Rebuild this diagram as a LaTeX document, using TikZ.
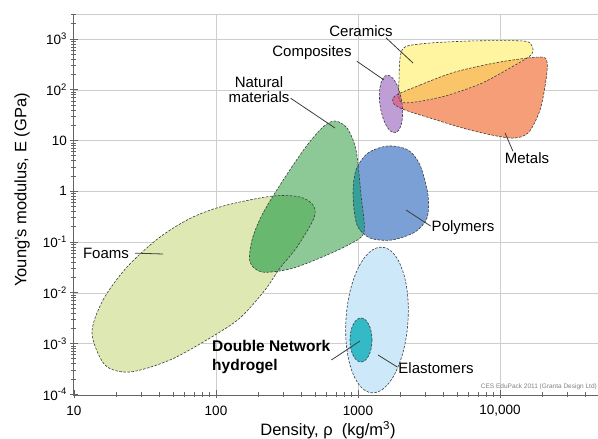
\documentclass[tikz,border=0pt]{standalone}
\usepackage{fontspec}
\setmainfont{Liberation Sans}
\usetikzlibrary{calc,positioning}

\definecolor{foamcol}{RGB}{221,232,178}
\definecolor{natcol}{RGB}{140,201,150}
\definecolor{foamnatcol}{RGB}{105,184,112}
\definecolor{polcol}{RGB}{122,160,214}
\definecolor{natpolcol}{RGB}{55,160,150}
\definecolor{elacol}{RGB}{205,232,248}
\definecolor{gelcol}{RGB}{52,186,198}
\definecolor{cercol}{RGB}{255,244,160}
\definecolor{metcol}{RGB}{246,158,120}
\definecolor{cermetcol}{RGB}{250,196,105}
\definecolor{cmpcol}{RGB}{190,158,212}
\definecolor{cmpmetcol}{RGB}{212,112,150}
\definecolor{outlinecol}{RGB}{60,60,60}
\definecolor{gridcol}{RGB}{205,205,205}
\definecolor{axiscol}{RGB}{100,100,100}

\tikzset{
  region/.style={draw=outlinecol, line width=0.6pt, dash pattern=on 2.5pt off 1.5pt},
  leader/.style={draw=outlinecol, line width=0.8pt},
  gridline/.style={draw=gridcol, line width=0.5pt},
  axisline/.style={draw=axiscol, line width=0.6pt},
  matlabel/.style={font=\fontsize{15}{15}\selectfont, inner sep=1pt},
  ticklabel/.style={font=\fontsize{13.5}{15}\selectfont, inner sep=1pt},
  axistitle/.style={font=\fontsize{16.5}{18}\selectfont, inner sep=1pt},
}

\begin{document}
\begin{tikzpicture}[x=1pt, y=-1pt]
    % Parameters (frame in pixels, y pointing down)
    \def\xzero{74}
    \def\xdec{142}
    \def\yzero{394.25}
    \def\ydec{50.75}
    \def\xleft{73}
    \def\xright{598}
    \def\ytop{14}
    \def\ybot{395}

    \useasboundingbox (0,0) rectangle (598,439);

    % Region outlines
    \def\foamspath{plot[smooth cycle] coordinates {(92,333) (103,300) (127,267) (160,237) (193,217) (227,205) (273,196) (300,197) (313,205) (314,218) (297,247) (280,268) (265,290) (240,318) (210,338) (170,360) (130,372) (105,365)}}
    \def\naturalpath{plot[smooth cycle] coordinates {(335,121) (347,128) (356,150) (361,195) (364,232) (350,244) (320,258) (290,269) (262,272) (250,262) (252,240) (262,215) (280,185) (305,148) (323,127)}}
    \def\polymerpath{plot[smooth cycle] coordinates {(353,195) (356,170) (368,153) (388,146) (408,150) (420,165) (428,195) (427,218) (415,232) (392,240) (370,238) (357,225)}}
    \def\ceramicpath{plot[smooth cycle] coordinates {(402,50) (420,44) (470,41) (523,41) (532,46) (531,55) (510,68) (480,84) (445,96) (415,102) (400,101) (399,80)}}
    \def\metalpath{plot[smooth cycle] coordinates {(395,96) (420,85) (455,72) (500,62) (540,57) (547,62) (546,80) (540,110) (528,133) (510,138) (470,130) (430,118) (405,110) (394,104)}}

    % Grid
    \draw[gridline] (\xleft,\ytop) -- (\xright,\ytop);
    \foreach \k in {1,...,7}
        \draw[gridline] (\xleft,{\yzero-\k*\ydec}) -- (\xright,{\yzero-\k*\ydec});
    \foreach \k in {1,2,3}
        \draw[gridline] ({\xzero+\k*\xdec},\ytop) -- ({\xzero+\k*\xdec},\ybot);

    % Fills
    \fill[foamcol] \foamspath;
    \fill[natcol] \naturalpath;
    \begin{scope}
        \clip \foamspath;
        \fill[foamnatcol] \naturalpath;
    \end{scope}
    \fill[polcol] \polymerpath;
    \begin{scope}
        \clip \naturalpath;
        \fill[natpolcol] \polymerpath;
    \end{scope}
    \fill[elacol, rotate around={-4:(377,320)}] (377,320) ellipse [x radius=31, y radius=73];
    \fill[gelcol] (361,340) ellipse [x radius=11, y radius=22];
    \fill[metcol] \metalpath;
    \fill[cercol] \ceramicpath;
    \begin{scope}
        \clip \metalpath;
        \fill[cermetcol] \ceramicpath;
    \end{scope}
    \fill[cmpcol, rotate around={8:(391,104)}] (391,104) ellipse [x radius=11, y radius=29];
    \begin{scope}
        \clip \metalpath;
        \fill[cmpmetcol, rotate around={8:(391,104)}] (391,104) ellipse [x radius=11, y radius=29];
    \end{scope}

    % Dashed borders on top
    \draw[region] \foamspath;
    \draw[region] \naturalpath;
    \draw[region] \polymerpath;
    \draw[region, rotate around={-4:(377,320)}] (377,320) ellipse [x radius=31, y radius=73];
    \draw[region] (361,340) ellipse [x radius=11, y radius=22];
    \draw[region] \metalpath;
    \draw[region] \ceramicpath;
    \draw[region, rotate around={8:(391,104)}] (391,104) ellipse [x radius=11, y radius=29];

    % Axes and ticks
    \draw[axisline] (\xleft,\ytop) -- (\xleft,\ybot) -- (\xright,\ybot);
    \foreach \k in {0,...,7}
        \draw[axisline] (\xleft-3,{\yzero-\k*\ydec}) -- ++(8,0);
    \foreach \d in {0,...,6}
        \foreach \m in {2,...,9}
            \draw[axisline] (\xleft-2,{\yzero-(\d+log10(\m))*\ydec}) -- ++(5,0);
    \foreach \m in {2,3}
        \draw[axisline] (\xleft-2,{\yzero-(7+log10(\m))*\ydec}) -- ++(5,0);
    \foreach \k in {0,...,3}
        \draw[axisline] ({\xzero+\k*\xdec},\ybot+3) -- ++(0,-8);
    \foreach \d in {0,...,2}
        \foreach \m in {2,...,9}
            \draw[axisline] ({\xzero+(\d+log10(\m))*\xdec},\ybot+2) -- ++(0,-5);
    \foreach \m in {2,3,4}
        \draw[axisline] ({\xzero+(3+log10(\m))*\xdec},\ybot+2) -- ++(0,-5);

    % Tick labels
    \foreach \k/\t in {0/{10\textsuperscript{-4}}, 1/{10\textsuperscript{-3}}, 2/{10\textsuperscript{-2}}, 3/{10\textsuperscript{-1}}, 4/1, 5/10, 6/{10\textsuperscript{2}}, 7/{10\textsuperscript{3}}}
        \node[ticklabel, anchor=east] (yl\k) at (68,{\yzero-\k*\ydec}) {\t};
    \foreach \k/\t in {0/10, 1/100, 2/1000, 3/{10,000}}
        \node[ticklabel] (xl\k) at ({\xzero+\k*\xdec},411) {\t};

    % Axis titles
    \node[axistitle] (xtitle) at (328,430) {Density, ρ\ \ (kg/m\textsuperscript{3})};
    \node[axistitle, rotate=90] (ytitle) at (22,190) {Young's modulus, E (GPa)};

    % Material labels
    \node[matlabel] (cer) at (361,31) {Ceramics};
    \node[matlabel] (cmp) at (312,53) {Composites};
    \node[matlabel, align=center] (nat) at (259,90) {Natural\\materials};
    \node[matlabel] (met) at (527,158) {Metals};
    \node[matlabel] (pol) at (463,228) {Polymers};
    \node[matlabel] (foa) at (106,253) {Foams};
    \node[matlabel, font=\fontsize{15.5}{18.5}\selectfont\bfseries, align=left, anchor=west] (gel) at (211,357) {Double Network\\hydrogel};
    \node[matlabel] (ela) at (436,368) {Elastomers};
    \node[anchor=east, inner sep=0pt, text=gray, font=\fontsize{6.5}{7}\selectfont] (credit) at (597,387) {CES EduPack 2011 (Granta Design Ltd)};

    % Leaders
    \coordinate (cer tip) at (413,63);
    \coordinate (cmp tip) at (384,80);
    \coordinate (nat tip) at (335,128);
    \coordinate (met tip) at (505,133);
    \coordinate (pol tip) at (406,210);
    \coordinate (foa tip) at (163,254);
    \coordinate (gel tip) at (360,341);
    \coordinate (ela tip) at (378,355);
    \draw[leader] ([xshift=-8pt]cer.south east) -- (cer tip);
    \draw[leader] ([xshift=4pt]cmp.south east) -- (cmp tip);
    \draw[leader] ([yshift=6pt]nat.south east) -- (nat tip);
    \draw[leader] ([xshift=-14pt]met.north) -- (met tip);
    \draw[leader] ([yshift=2pt]pol.west) -- (pol tip);
    \draw[leader, shorten <=5pt] (foa.east) -- (foa tip);
    \draw[leader] ([yshift=-3pt]gel.east) -- (gel tip);
    \draw[leader] ([yshift=1pt]ela.west) -- (ela tip);
\end{tikzpicture}
\end{document}
